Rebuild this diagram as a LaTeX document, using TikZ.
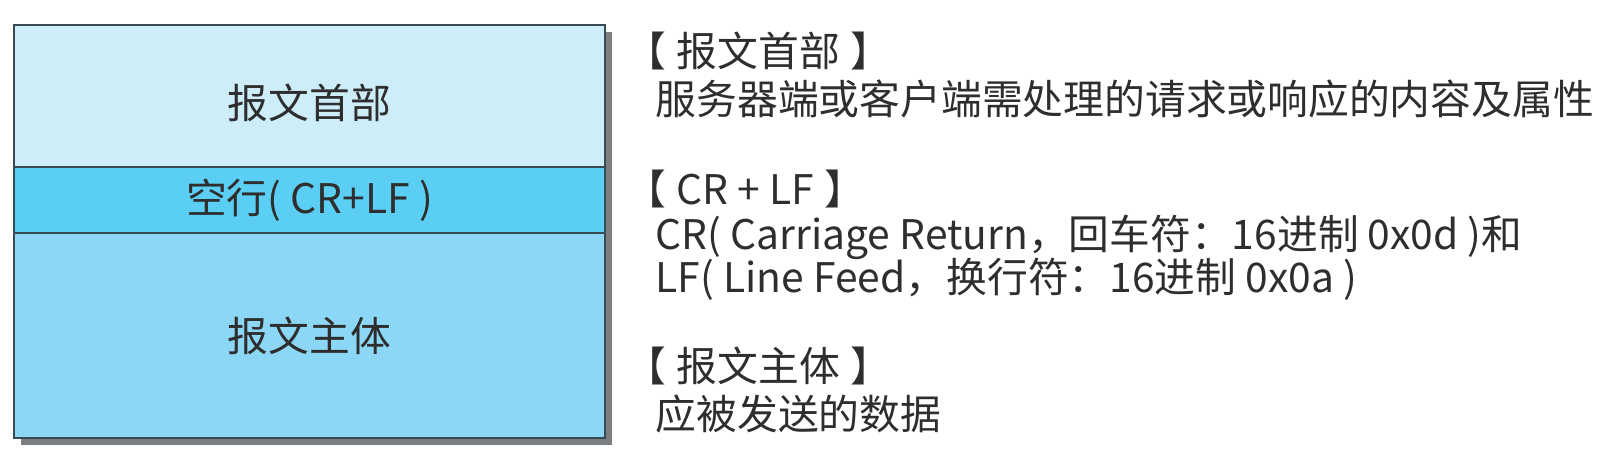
\documentclass[tikz,border=0pt]{standalone}
\usepackage{fontspec}
\setmainfont{Noto Sans CJK SC}
\usepackage{tikz}
\usetikzlibrary{positioning}
\definecolor{chdr}{HTML}{CDEDF9}
\definecolor{cblank}{HTML}{5ACEF3}
\definecolor{cbody}{HTML}{8CD7F5}
\definecolor{cline}{HTML}{3A4A52}
\definecolor{cshade}{HTML}{7C7F82}
\definecolor{ctext}{HTML}{2E2E2E}
\tikzset{
  part/.style={draw=cline, line width=0.6pt, rectangle, minimum width=5.91cm, inner sep=0pt, outer sep=0pt, text=ctext, font=\fontsize{11.6}{14}\selectfont},
  hdrpart/.style={part, fill=chdr, minimum height=1.417cm},
  blankpart/.style={part, fill=cblank, minimum height=0.663cm},
  bodypart/.style={part, fill=cbody, minimum height=2.05cm},
  note/.style={anchor=west, inner sep=0pt, text=ctext, font=\fontsize{11.6}{14}\selectfont},
  head/.style={note},
}
\newcommand{\brk}[1]{【\hspace{0.25em}#1\hspace{0.25em}】}
\begin{document}
\begin{tikzpicture}[x=0.01cm,y=-0.01cm]
\useasboundingbox (0,0) rectangle (1614,456);
% ---------------- message box
\fill[cshade] (21,32) rectangle (612,445);
\node[hdrpart] (hdr) at (309.5,95.85) {\raisebox{-0.07cm}[0.88em][0.12em]{报文首部}};
\node[blankpart, below=0pt of hdr] (blank) {空行( CR+LF )};
\node[bodypart, below=0pt of blank] (body) {报文主体};
% ---------------- notes
\node[head] (hdrT) at (625,51) {\brk{报文首部}};
\node[note] (hdrN) at (655,99) {服务器端或客户端需处理的请求或响应的内容及属性};
\node[head] (crlfT) at (625,189) {\brk{CR + LF}};
\node[note] (crN) at (655,237) {CR( Carriage Return，回车符：16进制 0x0d )和};
\node[note] (lfN) at (655,279) {LF( Line Feed，换行符：16进制 0x0a )};
\node[head] (bodyT) at (625,366) {\brk{报文主体}};
\node[note] (bodyN) at (655,414) {应被发送的数据};
\end{tikzpicture}
\end{document}
